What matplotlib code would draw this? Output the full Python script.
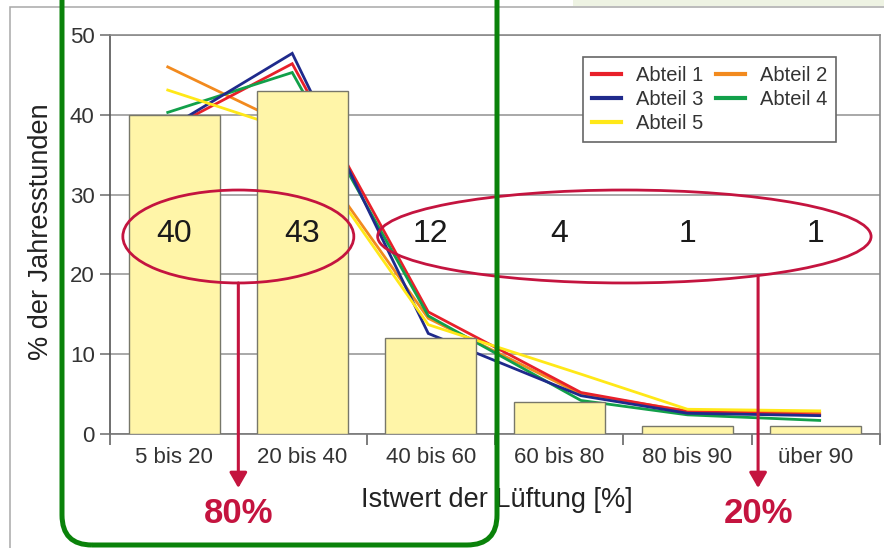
import numpy as np
import matplotlib
matplotlib.use("Agg")
import matplotlib.pyplot as plt
from matplotlib.patches import Ellipse, FancyBboxPatch, Rectangle
from matplotlib.lines import Line2D

plt.rcParams["font.family"] = ["Liberation Sans", "DejaVu Sans"]

# Klassen der Lüftungsstellung und Anteil der Jahresstunden (Mittel)
kategorien = ["5 bis 20", "20 bis 40", "40 bis 60", "60 bis 80", "80 bis 90", "über 90"]
anteil_mittel = [40, 43, 12, 4, 1, 1]

# Verläufe der einzelnen Abteile (Stützstellen auf der Kategorienachse)
stuetz_x = [-0.05, 0.92, 1.98, 3.17, 4.0, 5.03]
abteil_1 = [38.2, 46.4, 15.3, 5.2, 2.8, 2.4]
abteil_2 = [46.0, 38.5, 14.5, 5.0, 2.9, 2.7]
abteil_3 = [38.3, 47.7, 12.6, 4.8, 2.6, 2.3]
abteil_4 = [40.3, 45.3, 14.8, 4.2, 2.4, 1.7]
abteil_5 = [43.1, 38.0, 13.7, 7.5, 3.1, 2.9]

summe_links = "80%"
summe_rechts = "20%"

ROT = "#E8202A"
ORANGE = "#F28A1E"
BLAU = "#1F2A8C"
GRUEN = "#12A04A"
GELB = "#FFE818"
KARMIN = "#C4143F"

fig = plt.figure(figsize=(8.84, 5.48), dpi=100)
fig.patch.set_facecolor("white")
ax = fig.add_axes([110 / 884, 1 - 434 / 548, 770 / 884, 399 / 548])

x = np.arange(len(kategorien))

# Linien liegen hinter den Balken
serien = [
    (abteil_2, ORANGE, "Abteil 2"),
    (abteil_1, ROT, "Abteil 1"),
    (abteil_4, GRUEN, "Abteil 4"),
    (abteil_3, BLAU, "Abteil 3"),
    (abteil_5, GELB, "Abteil 5"),
]
for werte, farbe, name in serien:
    ax.plot(stuetz_x, werte, color=farbe, lw=2.0, zorder=2, solid_joinstyle="miter")

ax.bar(x, anteil_mittel, width=0.71, color="#FFF5A8", edgecolor="#77776a",
       linewidth=1.0, zorder=3)

ax.set_xlim(-0.5, len(kategorien) - 0.5)
ax.set_ylim(0, 50)
ax.set_yticks([0, 10, 20, 30, 40, 50])
ax.set_xticks(x)
ax.set_xticklabels(kategorien)
ax.set_xticks(np.arange(-0.5, len(kategorien), 1.0), minor=True)
ax.tick_params(axis="x", which="major", length=0, pad=9.5, labelsize=16, labelcolor="#333333")
ax.tick_params(axis="x", which="minor", length=8, width=1.2, color="#666666", direction="out")
ax.tick_params(axis="y", length=7, width=1.2, color="#777777", direction="out", pad=4,
               labelsize=16, labelcolor="#333333")

ax.grid(axis="y", color="#9a9a9a", lw=1.2, zorder=0)
ax.set_axisbelow(True)
for s in ax.spines.values():
    s.set_color("#8a8a8a")
    s.set_linewidth(1.2)
ax.spines["left"].set_color("#555555")
ax.spines["bottom"].set_color("#777777")

ax.set_ylabel("% der Jahresstunden", fontsize=19.5, color="#222222")
ax.yaxis.set_label_coords(-0.073, 0.506)
ax.set_xlabel("Istwert der Lüftung [%]", fontsize=19.5, color="#222222")
ax.xaxis.set_label_coords(0.502, -0.133)

# Legende: zwei Spalten
griffe = {name: Line2D([], [], color=farbe, lw=3) for _, farbe, name in serien}
reihenfolge = ["Abteil 1", "Abteil 3", "Abteil 5", "Abteil 2", "Abteil 4"]
leg = ax.legend([griffe[n] for n in reihenfolge], reihenfolge, ncol=2,
                loc="upper left", bbox_to_anchor=(0.614, 0.945), fontsize=14.5,
                frameon=True, fancybox=False, framealpha=1, edgecolor="#666666",
                handlelength=1.45, handletextpad=0.75, columnspacing=0.6,
                labelspacing=0.25, borderpad=0.45, borderaxespad=0)
leg.get_frame().set_linewidth(1.2)
leg.set_zorder(6)
for t in leg.get_texts():
    t.set_color("#333333")

# Ellipsen um die Werte
ell_y, ell_h = 24.75, 11.65
e1_cx, e1_w = 0.5, 1.8
e2_cx, e2_w = 3.508, 3.845
for cx, w in [(e1_cx, e1_w), (e2_cx, e2_w)]:
    ax.add_patch(Ellipse((cx, ell_y), w, ell_h, fill=False, ec=KARMIN, lw=2.0,
                         zorder=5, clip_on=False))

for xi, v in zip(x, anteil_mittel):
    ax.text(xi, 25.0, f"{v}", ha="center", va="center", fontsize=23,
            color="#1a1a1a", zorder=6)

# Pfeile zu den Summen
pfeil_links_x = 0.5
pfeil_rechts_x = 4.55
start_links = ell_y - ell_h / 2
dx = (pfeil_rechts_x - e2_cx) / (e2_w / 2)
start_rechts = ell_y - ell_h / 2 * np.sqrt(1 - dx ** 2)
spitze_y = -6.77
text_y = -10.0
for px, py, txt in [(pfeil_links_x, start_links, summe_links),
                    (pfeil_rechts_x, start_rechts, summe_rechts)]:
    ax.annotate("", xy=(px, spitze_y), xytext=(px, py),
                arrowprops=dict(arrowstyle="-|>,head_length=0.4,head_width=0.23",
                                mutation_scale=23, lw=2.2, color=KARMIN,
                                shrinkA=0, shrinkB=0),
                annotation_clip=False, zorder=6)
    ax.text(px, text_y, txt, ha="center", va="center", fontsize=25,
            fontweight="bold", color=KARMIN, clip_on=False)

# Rahmen der Seite
fig.add_artist(Rectangle((0.10, -0.5), 10, 5.41 + 0.5, transform=fig.dpi_scale_trans,
                         fill=False, ec="#a8a8a8", lw=1.1, zorder=0.5))
fig.add_artist(Rectangle((5.73, 5.42), 3.2, 0.2, transform=fig.dpi_scale_trans,
                         fc="#eef3e3", ec="none", zorder=0.5))
fig.add_artist(FancyBboxPatch((0.62, 0.03), 4.35, 6.0,
                              boxstyle="round,pad=0,rounding_size=0.3",
                              transform=fig.dpi_scale_trans, fill=False,
                              ec="#0a820a", lw=3.6, zorder=10))

fig.savefig("out.png", dpi=100)
